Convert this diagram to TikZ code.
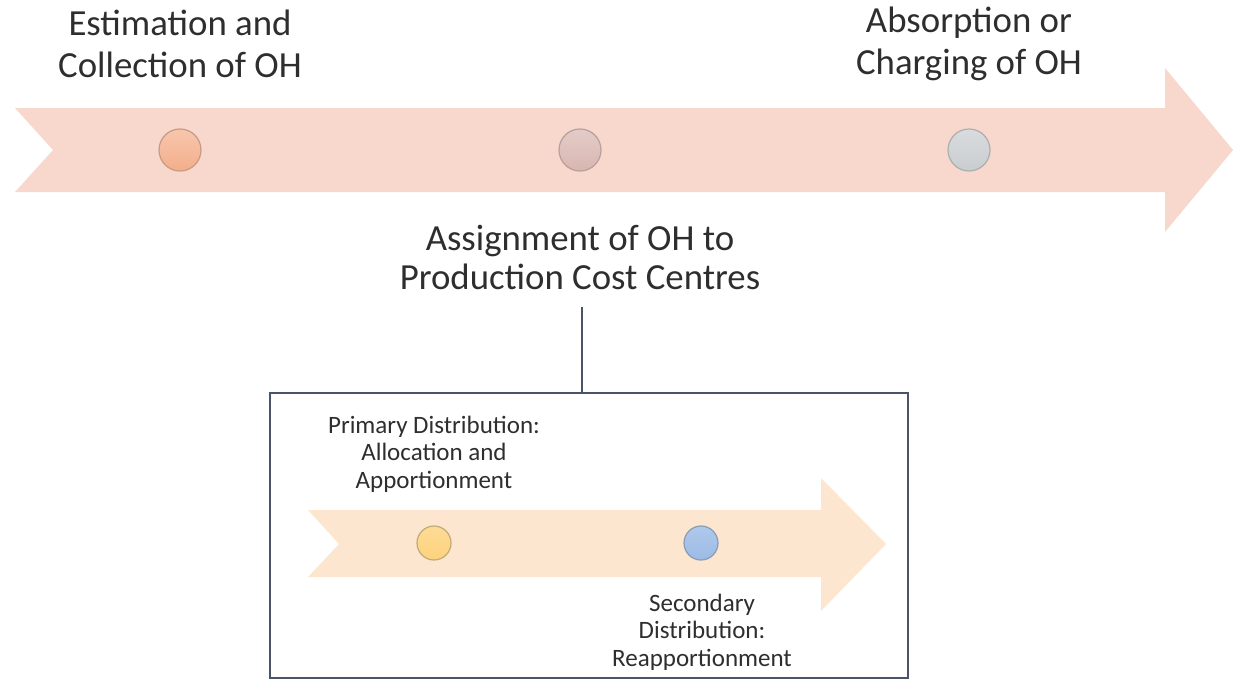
\documentclass[tikz,border=0pt]{standalone}
\usepackage{fontspec}
\setmainfont{Carlito}
\usetikzlibrary{positioning}

\definecolor{bandpink}{HTML}{F8D7CC}
\definecolor{bandpeach}{HTML}{FDE6CF}
\definecolor{dotorange}{HTML}{F4AE8A}
\definecolor{dotmauve}{HTML}{D9B6B0}
\definecolor{dotgrey}{HTML}{C9CDD0}
\definecolor{dotyellow}{HTML}{FDD27C}
\definecolor{dotblue}{HTML}{9BBBE6}
\definecolor{boxline}{HTML}{4A5468}
\definecolor{txtgrey}{HTML}{2E2E2E}

\begin{document}
\begin{tikzpicture}[x=0.5pt,y=-0.5pt]
		\tikzstyle{BigText}=[align=center,text=txtgrey,inner sep=0pt,font=\fontsize{18.4}{21}\selectfont]
		\tikzstyle{SmallText}=[align=center,text=txtgrey,inner sep=0pt,font=\fontsize{12.5}{13.7}\selectfont]
		\tikzstyle{BigDot}=[circle,draw,line width=0.6pt,minimum size=21pt,inner sep=0pt]
		\tikzstyle{SmallDot}=[circle,draw,line width=0.6pt,minimum size=17pt,inner sep=0pt]
		\useasboundingbox (0,0) rectangle (1234,680);
		% main timeline
		\fill[bandpink] (15,108) -- (1165,108) -- (1165,68) -- (1233,150)
			-- (1165,232) -- (1165,192) -- (15,192) -- (53,150) -- cycle;
		\node[BigDot,draw=dotorange!75!black!80,top color=dotorange!70!white,bottom color=dotorange] (est) at (180,150) {};
		\node[BigDot,draw=dotmauve!75!black!80,top color=dotmauve!70!white,bottom color=dotmauve] (asg) at (580,150) {};
		\node[BigDot,draw=dotgrey!75!black!80,top color=dotgrey!70!white,bottom color=dotgrey] (abs) at (969,150) {};
		\node[BigText] (esttxt) at (180,44) {Estimation and\\Collection of OH};
		\node[BigText] (abstxt) at (969,44) {Absorption or\\Charging of OH};
		\node[BigText,font=\fontsize{18.4}{19.5}\selectfont] (asgtxt) at (580,257) {Assignment of OH to\\Production Cost Centres};
		% detail box
		\node[draw=boxline,line width=0.8pt,minimum width=319pt,minimum height=142.5pt] (detail) at (589,535.5) {};
		\coordinate (lnA) at (582,307);
		\draw[boxline,line width=0.8pt] (lnA) -- (lnA |- detail.north);
		\fill[bandpeach] (308,510) -- (821,510) -- (821,478) -- (886,544)
			-- (821,611) -- (821,577) -- (308,577) -- (339,544) -- cycle;
		\node[SmallDot,draw=dotyellow!70!black!80,top color=dotyellow!80!white,bottom color=dotyellow] (prim) at (434,543) {};
		\node[SmallDot,draw=dotblue!70!black!80,top color=dotblue!80!white,bottom color=dotblue] (sec) at (701,543) {};
		\node[SmallText] (primtxt) at (434,454) {Primary Distribution:\\Allocation and\\Apportionment};
		\node[SmallText] (sectxt) at (702,632) {Secondary\\Distribution:\\Reapportionment};
		%\draw (prim) -- (sec);
	\end{tikzpicture}
\end{document}
